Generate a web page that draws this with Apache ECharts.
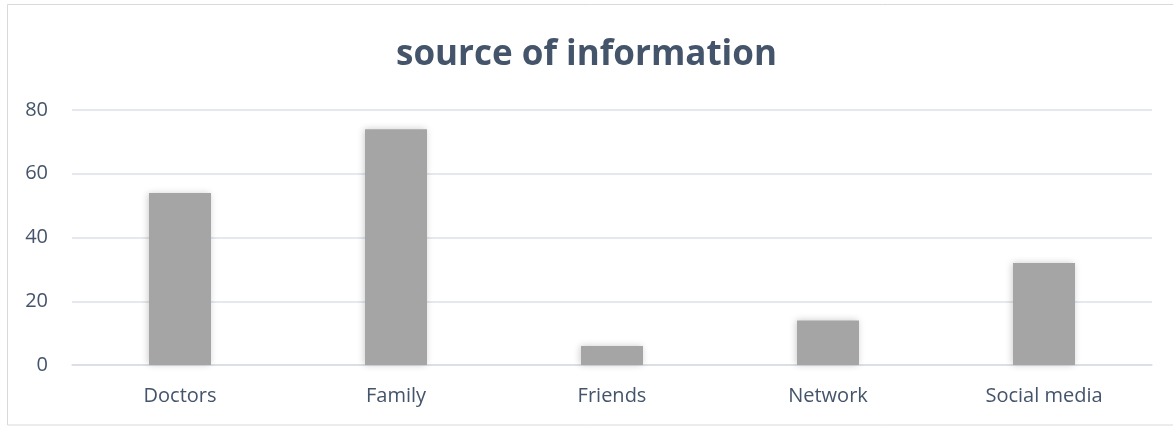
<!DOCTYPE html>
<html>
<head>
<meta charset="utf-8">
<script src="https://cdn.jsdelivr.net/npm/echarts@6/dist/echarts.min.js"></script>
<style>
html,body{margin:0;padding:0;background:#fff;}
#chart{width:1173px;height:426px;}
</style>
</head>
<body>
<div id="chart"></div>
<script>
const categories = ['Doctors', 'Family', 'Friends', 'Network', 'Social media'];
const values = [54, 74, 6, 14, 32];
const yTicks = { min: 0, max: 80, interval: 20 };
const titleText = 'source of information';

const chart = echarts.init(document.getElementById('chart'));
chart.setOption({
  backgroundColor: '#fff',
  animation: false,
  graphic: [{
    type: 'rect',
    shape: { x: 7.5, y: 4.5, width: 1200, height: 420.5 },
    style: { fill: 'none', stroke: '#D9D9D9', lineWidth: 1 },
    silent: true, z: -10
  }],
  title: {
    text: titleText,
    left: 'center',
    top: 33,
    textStyle: { fontFamily: 'Open Sans', fontWeight: 'bold', fontSize: 35, color: '#44546A' }
  },
  grid: { left: 72, right: 21, top: 110, bottom: 61, containLabel: false },
  xAxis: {
    type: 'category',
    data: categories,
    axisLine: { show: true, lineStyle: { color: '#D9DDE3', width: 1.5 } },
    axisTick: { show: false },
    axisLabel: { color: '#44546A', fontFamily: 'Open Sans', fontSize: 20, margin: 21 }
  },
  yAxis: {
    type: 'value',
    min: yTicks.min, max: yTicks.max, interval: yTicks.interval,
    axisLine: { show: false },
    axisTick: { show: false },
    splitLine: { lineStyle: { color: '#DDE1E6', width: 1.5 } },
    axisLabel: { color: '#44546A', fontFamily: 'Open Sans', fontSize: 20, margin: 24 }
  },
  series: [{
    type: 'bar',
    data: values,
    barWidth: 62,
    itemStyle: {
      color: '#A5A5A5',
      shadowColor: 'rgba(0,0,0,0.2)',
      shadowBlur: 7,
      shadowOffsetX: -1
    }
  }]
});
</script>
</body>
</html>
